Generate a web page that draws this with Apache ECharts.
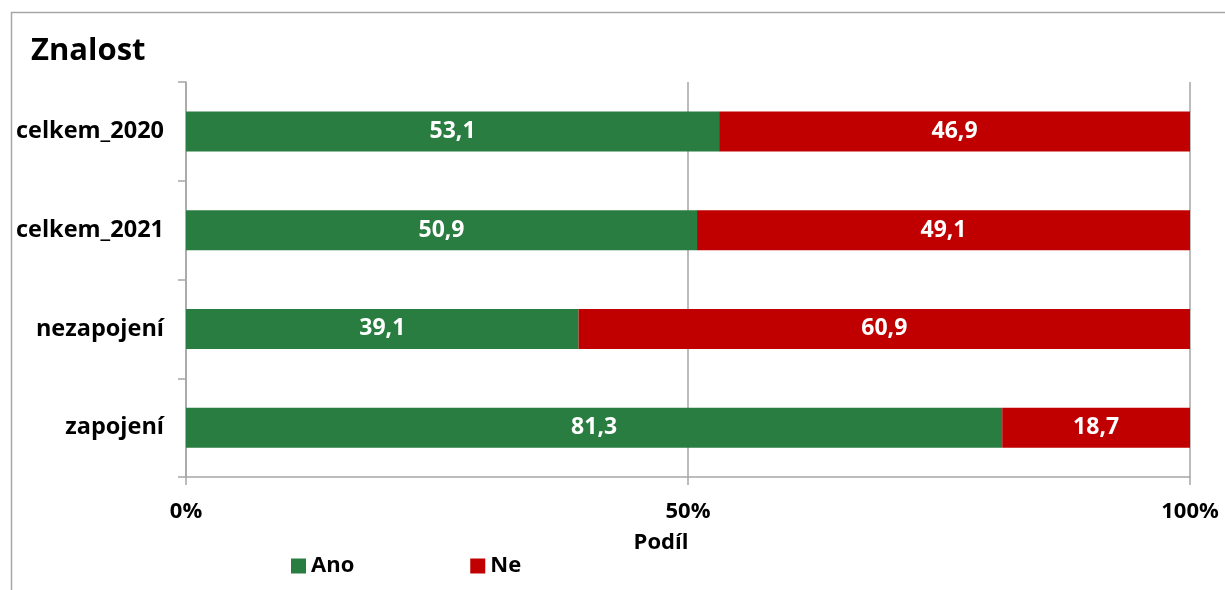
<!DOCTYPE html>
<html>
<head>
<meta charset="utf-8">
<script src="https://cdn.jsdelivr.net/npm/echarts@6/dist/echarts.min.js"></script>
<style>
  html, body { margin: 0; padding: 0; background: #fff; }
  #chart { width: 1225px; height: 590px; }
</style>
</head>
<body>
<div id="chart"></div>
<script>
// kategorie shora dolů
const categories = ["celkem_2020", "celkem_2021", "nezapojení", "zapojení"];
const anoValues = [53.1, 50.9, 39.1, 81.3];
const neValues = [46.9, 49.1, 60.9, 18.7];
const xTicks = [0, 50, 100];

const font = "'Open Sans', 'Liberation Sans', sans-serif";
const axisGrey = "#a6a6a6";

const chart = echarts.init(document.getElementById("chart"));

// popisek hodnoty s desetinnou čárkou
const labelFmt = p => p.value.toFixed(1).replace(".", ",");

const option = {
  animation: false,
  textStyle: { fontFamily: font },
  graphic: [
    {
      type: "rect",
      shape: { x: 11.5, y: 12.5, width: 1400, height: 800 },
      style: { fill: "none", stroke: "#a6a6a6", lineWidth: 1.5 },
      silent: true
    }
  ],
  title: {
    text: "Znalost",
    left: 26,
    top: 31,
    textStyle: { fontFamily: font, fontSize: 31, fontWeight: "bold", color: "#000" }
  },
  legend: {
    left: 286,
    top: 550,
    itemWidth: 15,
    itemHeight: 15,
    itemGap: 116,
    icon: "rect",
    textStyle: { fontFamily: font, fontSize: 22, fontWeight: "bold", color: "#000" },
    data: ["Ano", "Ne"]
  },
  grid: { left: 186, right: 35, top: 82, bottom: 113 },
  xAxis: {
    type: "value",
    min: xTicks[0],
    max: xTicks[xTicks.length - 1],
    interval: 50,
    name: "Podíl",
    nameLocation: "middle",
    nameGap: 55,
    nameTextStyle: { fontFamily: font, fontSize: 22, fontWeight: "bold", color: "#000", padding: [0, 54, 0, 0] },
    axisLine: { show: true, lineStyle: { color: axisGrey, width: 1.5 } },
    axisTick: { show: true, length: 8, lineStyle: { color: axisGrey, width: 1.5 } },
    splitLine: { show: true, lineStyle: { color: axisGrey, width: 1.5 } },
    axisLabel: {
      margin: 24,
      formatter: "{value}%",
      fontFamily: font,
      fontSize: 22,
      fontWeight: "bold",
      color: "#000"
    }
  },
  yAxis: {
    type: "category",
    inverse: true,
    data: categories,
    axisLine: { show: true, lineStyle: { color: axisGrey, width: 1.5 } },
    axisTick: { show: true, length: 8, lineStyle: { color: axisGrey, width: 1.5 } },
    axisLabel: {
      margin: 22,
      fontFamily: font,
      fontSize: 23.5,
      fontWeight: "bold",
      color: "#000"
    }
  },
  series: [
    {
      name: "Ano",
      type: "bar",
      stack: "total",
      barWidth: 40,
      itemStyle: { color: "#2a7d41" },
      label: { show: true, position: "inside", formatter: labelFmt, color: "#fff", fontFamily: font, fontSize: 23, fontWeight: "bold" },
      data: anoValues
    },
    {
      name: "Ne",
      type: "bar",
      stack: "total",
      barWidth: 40,
      itemStyle: { color: "#c00000" },
      label: { show: true, position: "inside", formatter: labelFmt, color: "#fff", fontFamily: font, fontSize: 23, fontWeight: "bold" },
      data: neValues
    }
  ]
};

chart.setOption(option);
</script>
</body>
</html>
